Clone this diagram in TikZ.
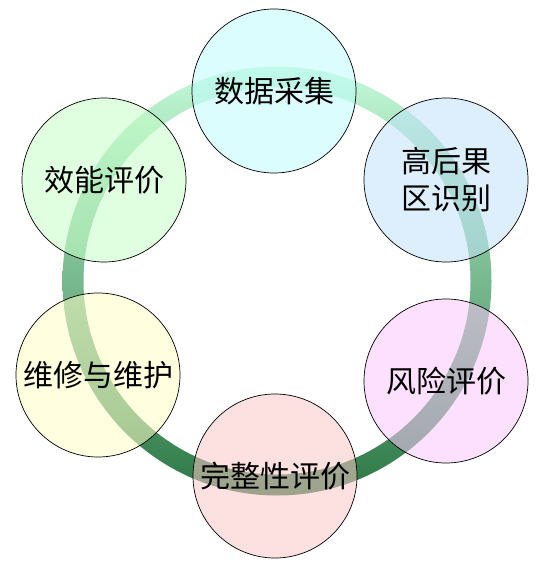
\documentclass[tikz,border=0pt]{standalone}
\usepackage{fontspec}
\usepackage{xcolor}
\setmainfont{Noto Sans CJK SC}
\definecolor{ringTop}{RGB}{196,250,216}
\definecolor{ringBottom}{RGB}{44,119,69}
\definecolor{dataCyan}{RGB}{191,251,251}
\definecolor{hcaBlue}{RGB}{193,226,251}
\definecolor{riskPink}{RGB}{251,199,251}
\definecolor{integRose}{RGB}{251,199,199}
\definecolor{maintYellow}{RGB}{255,255,199}
\definecolor{perfGreen}{RGB}{199,255,199}

\begin{document}
\begin{tikzpicture}[x=1pt, y=-1pt, every node/.style={font=\fontsize{30}{37}\selectfont, align=center},
  stage/.style={draw, circle, line width=0.7pt, fill opacity=0.55, text opacity=1, minimum size=164pt, inner sep=0pt}]
\useasboundingbox (0,0) rectangle (553,572);

% Ring
\coordinate (hub) at (277,281);
\shade[top color=ringTop, bottom color=ringBottom, even odd rule] (hub) circle[radius=214.5pt] (hub) circle[radius=193.5pt];

% Stages around the ring
\node[stage, fill=dataCyan] (data) at (274,91) {数据采集};
\node[stage, fill=hcaBlue] (hca) at (446,180) {高后果\\区识别};
\node[stage, fill=riskPink] (risk) at (446,381) {风险评价};
\node[stage, fill=integRose] (integ) at (275,476) {完整性评价};
\node[stage, fill=maintYellow] (maint) at (98,375) {维修与维护};
\node[stage, fill=perfGreen] (perf) at (104,180) {效能评价};
\end{tikzpicture}
\end{document}
